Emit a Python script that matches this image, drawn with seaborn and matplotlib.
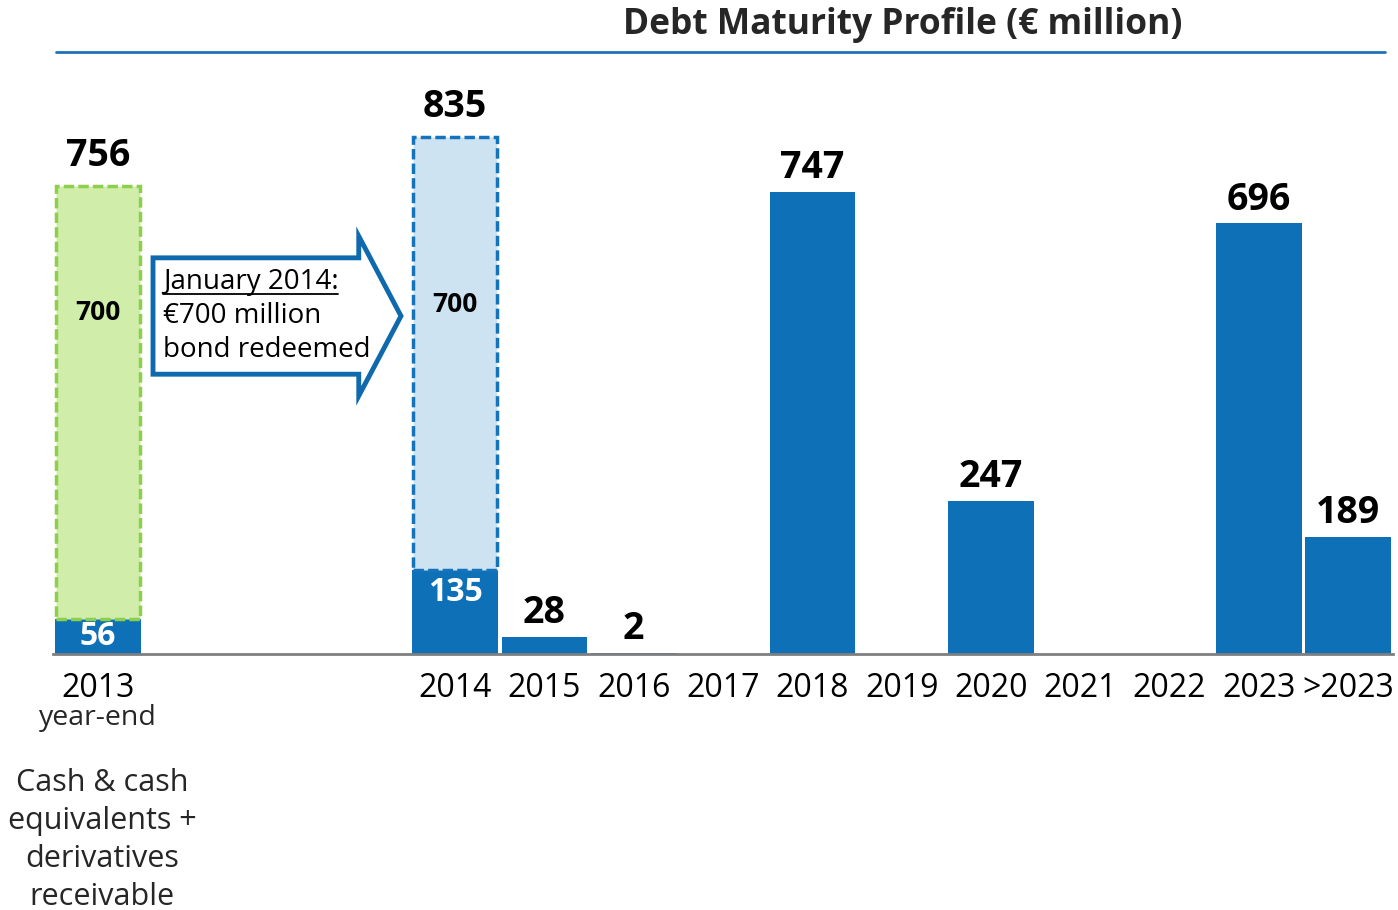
import numpy as np
import pandas as pd
import matplotlib
matplotlib.use("Agg")
import matplotlib.pyplot as plt
import seaborn as sns
from matplotlib.patches import Polygon
from matplotlib.lines import Line2D

# ---------------- data ----------------
categories = ["2013", "gap1", "gap2", "gap3", "2014", "2015", "2016", "2017",
              "2018", "2019", "2020", "2021", "2022", "2023", ">2023"]
tick_labels = ["2013", "", "", "", "2014", "2015", "2016", "2017",
               "2018", "2019", "2020", "2021", "2022", "2023", ">2023"]
debt_values = [56, np.nan, np.nan, np.nan, 135, 28, 2, 0,
               747, 0, 247, 0, 0, 696, 189]
upper_categories = ["2013", "2014"]
upper_values = [700, 700]
title = "Debt Maturity Profile (€ million)"
arrow_lines = ["January 2014:", "€700 million", "bond redeemed"]
bottom_note = "Cash & cash\nequivalents +\nderivatives\nreceivable"

# ---------------- style ----------------
BLUE = "#0e71b8"
GREEN_FILL = "#d0edaa"
GREEN_EDGE = "#8ccf4c"
LBLUE_FILL = "#cde3f2"
LBLUE_EDGE = "#1573bb"
GREY = "#7f7f7f"

sns.set_style("white")
plt.rcParams["font.family"] = ["Open Sans", "DejaVu Sans"]

W, H = 1398, 910
fig = plt.figure(figsize=(W / 100, H / 100), dpi=100)
ax_left = 53.35 / W
ax_width = 1339.5 / W
ax_bottom = (H - 654) / H
ymax = 930
ax_height = ymax * 0.619 / H
ax = fig.add_axes([ax_left, ax_bottom, ax_width, ax_height])

df = pd.DataFrame({"category": categories, "value": debt_values})
sns.barplot(data=df, x="category", y="value", order=categories, color=BLUE,
            saturation=1, width=0.96, edgecolor="none", ax=ax, errorbar=None)

# upper (redeemed / cash) segments
pos = {c: i for i, c in enumerate(categories)}
for cat, val, fc, ec in zip(upper_categories, upper_values,
                            [GREEN_FILL, LBLUE_FILL], [GREEN_EDGE, LBLUE_EDGE]):
    i = pos[cat]
    base = debt_values[i]
    ax.bar(i, val, bottom=base, width=0.94, color=fc, edgecolor=ec,
           linewidth=2.5, linestyle=(0, (3, 1.2)), zorder=3)

ax.set_xlim(-0.5, len(categories) - 0.5)
ax.set_ylim(0, ymax)

# axes styling
for s in ["top", "right", "left"]:
    ax.spines[s].set_visible(False)
ax.spines["bottom"].set_color(GREY)
ax.spines["bottom"].set_linewidth(2)
ax.set_yticks([])
ax.set_ylabel("")
ax.set_xlabel("")
ax.set_xticks(range(len(categories)))
ax.set_xticklabels(tick_labels, fontsize=23)
ax.tick_params(axis="x", which="major", length=0, pad=13, colors="black")
boundaries = [-0.5, 0.5] + [i + 0.5 for i in range(3, len(categories))]
ax.set_xticks(boundaries, minor=True)
ax.tick_params(axis="x", which="minor", length=9, width=1.8, color=GREY,
               direction="out")

# value labels above bars
for i, c in enumerate(categories):
    v = debt_values[i]
    if np.isnan(v) or v == 0:
        continue
    total = v
    off = 17
    if c in upper_categories:
        total = v + upper_values[upper_categories.index(c)]
        off = 21.5
    ax.annotate(f"{int(total)}", xy=(i, total), xytext=(0, off),
                textcoords="offset points", ha="center", va="center",
                fontsize=27, fontweight="bold", color="black")

# inner labels
inner_low_y = {"2013": 29, "2014": 100}
inner_up_y = {"2013": 551, "2014": 564}
for cat, val in zip(upper_categories, upper_values):
    i = pos[cat]
    ax.text(i, inner_low_y[cat], f"{int(debt_values[i])}", ha="center",
            va="center", fontsize=23, fontweight="bold", color="white", zorder=5)
    ax.text(i, inner_up_y[cat], f"{int(val)}", ha="center", va="center",
            fontsize=19, fontweight="bold", color="black", zorder=5)

# block arrow
arrow = Polygon([(0.616, 640), (2.92, 640), (2.92, 675), (3.393, 546),
                 (2.92, 417), (2.92, 452), (0.616, 452)], closed=True,
                facecolor="white", edgecolor="#0e69ad", linewidth=3.5,
                joinstyle="miter", zorder=4)
ax.add_patch(arrow)
line_y = [601, 546, 491]
texts = []
for s, yy in zip(arrow_lines, line_y):
    t = ax.text(0.725, yy, s, ha="left", va="center", fontsize=20,
                color="black", zorder=6)
    texts.append(t)

# year-end label and note
ax.annotate("year-end", xy=(0, 0), xytext=(0, -(718 - 654) / 1.389),
            textcoords="offset points", ha="center", va="center",
            fontsize=20.5, annotation_clip=False)
fig.text(102 / W, 1 - 840 / H, bottom_note, ha="center", va="center",
         fontsize=22, linespacing=1.36)

# title and rule
fig.text(903 / W, 1 - 25 / H, title, ha="center", va="center",
         fontsize=25.5, fontweight="bold")
fig.add_artist(Line2D([56 / W, 1385 / W], [1 - 52 / H, 1 - 52 / H],
                      transform=fig.transFigure, color="#1f72b8", lw=2))

# underline first arrow line
fig.canvas.draw()
r = fig.canvas.get_renderer()
bb = texts[0].get_window_extent(renderer=r)
uy = bb.y0 + 2
fig.add_artist(Line2D([bb.x0 / W, bb.x1 / W], [uy / H, uy / H],
                      transform=fig.transFigure, color="black", lw=1.3))

fig.savefig("out.png", dpi=100)
